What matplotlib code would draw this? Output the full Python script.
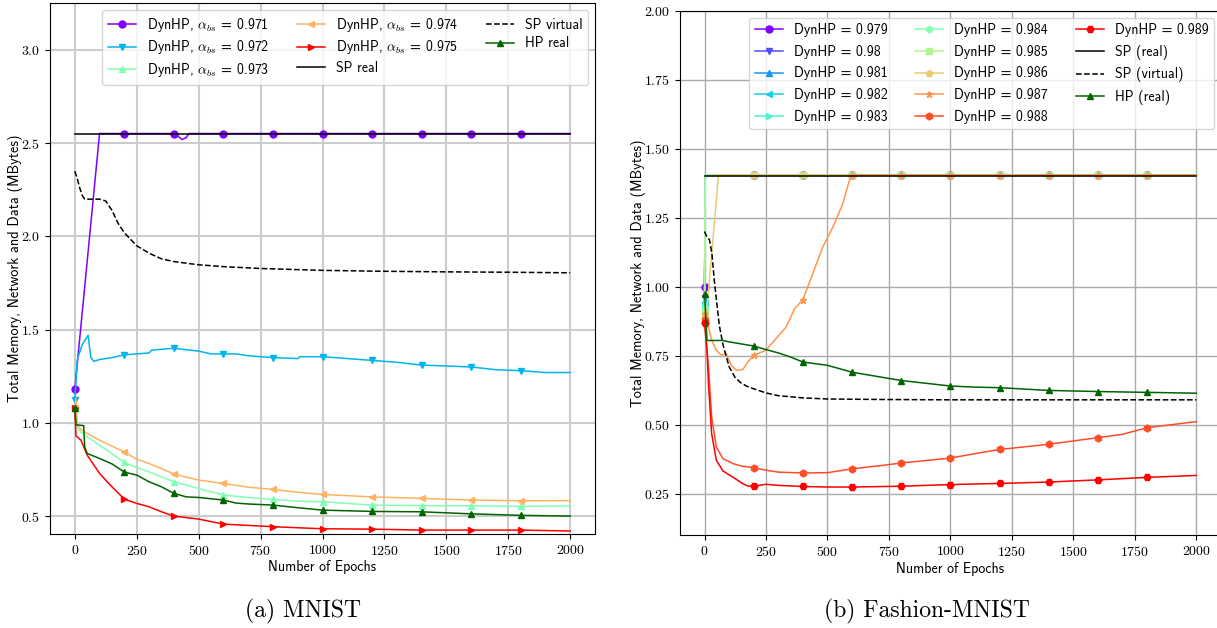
import numpy as np
import matplotlib
matplotlib.use('Agg')
import matplotlib.pyplot as plt

plt.rcParams["font.family"] = "cmr10"
plt.rcParams["mathtext.fontset"] = "cm"
plt.rcParams["axes.formatter.use_mathtext"] = True

# ---------------- MNIST (left) ----------------
ep_971 = [0, 100, 200, 400, 415, 433, 450, 460, 600, 800, 1000, 1200, 1400, 1600, 1800, 2000]
v_971 = [1.18, 2.552, 2.552, 2.552, 2.54, 2.52, 2.53, 2.552, 2.552, 2.552, 2.552, 2.552, 2.552, 2.552, 2.552, 2.552]

ep_972 = [0, 10, 30, 54, 60, 65, 77, 100, 150, 200, 250, 300, 310, 350, 400, 500, 550, 600, 650, 700,
          800, 900, 910, 1000, 1100, 1200, 1300, 1400, 1500, 1600, 1700, 1800, 1900, 2000]
v_972 = [1.12, 1.34, 1.42, 1.47, 1.40, 1.35, 1.33, 1.34, 1.35, 1.365, 1.37, 1.375, 1.39, 1.395, 1.40,
         1.385, 1.37, 1.37, 1.37, 1.36, 1.35, 1.345, 1.355, 1.355, 1.345, 1.335, 1.325, 1.31, 1.305,
         1.30, 1.285, 1.28, 1.27, 1.27]

ep_973 = [0, 5, 10, 25, 50, 100, 150, 200, 250, 300, 350, 400, 500, 600, 700, 800, 900, 1000, 1200, 1400, 1600, 1800, 2000]
v_973 = [1.08, 1.07, 0.975, 0.95, 0.925, 0.88, 0.835, 0.788, 0.76, 0.737, 0.71, 0.684, 0.648, 0.613,
         0.60, 0.589, 0.58, 0.577, 0.559, 0.556, 0.555, 0.552, 0.554]

ep_974 = [0, 5, 10, 25, 50, 100, 150, 200, 250, 300, 350, 400, 500, 600, 700, 800, 900, 1000, 1200, 1400, 1600, 1800, 2000]
v_974 = [1.08, 1.13, 0.99, 0.965, 0.943, 0.907, 0.875, 0.844, 0.805, 0.782, 0.755, 0.725, 0.693, 0.675,
         0.655, 0.643, 0.628, 0.616, 0.603, 0.595, 0.586, 0.582, 0.583]

ep_975 = [0, 5, 25, 50, 100, 150, 200, 250, 300, 350, 400, 500, 600, 800, 1000, 1200, 1400, 1600, 1800, 2000]
v_975 = [1.08, 0.93, 0.907, 0.827, 0.729, 0.657, 0.591, 0.568, 0.55, 0.523, 0.50, 0.484, 0.457, 0.443,
         0.432, 0.43, 0.425, 0.425, 0.425, 0.42]

ep_sp_real_a = [0, 2000]
v_sp_real_a = [2.548, 2.548]

ep_sp_virt_a = [0, 10, 20, 30, 40, 50, 75, 100, 125, 150, 175, 200, 250, 300, 350, 400, 500, 600, 750,
                1000, 1250, 1500, 1750, 2000]
v_sp_virt_a = [2.35, 2.31, 2.26, 2.22, 2.20, 2.20, 2.20, 2.20, 2.19, 2.14, 2.07, 2.02, 1.95, 1.91, 1.88,
               1.865, 1.848, 1.838, 1.828, 1.818, 1.813, 1.81, 1.808, 1.805]

ep_hp_a = [0, 5, 36, 40, 50, 100, 150, 200, 250, 300, 350, 400, 450, 500, 600, 650, 700, 800, 900, 1000,
           1200, 1400, 1600, 1800, 2000]
v_hp_a = [1.08, 0.99, 0.985, 0.87, 0.836, 0.809, 0.78, 0.736, 0.72, 0.684, 0.657, 0.622, 0.603, 0.60,
          0.586, 0.57, 0.565, 0.559, 0.545, 0.532, 0.525, 0.523, 0.512, 0.504, 0.50]

alphas_a = ["0.971", "0.972", "0.973", "0.974", "0.975"]

# ---------------- Fashion-MNIST (right) ----------------
ep_flat = [0, 3, 200, 400, 600, 800, 1000, 1200, 1400, 1600, 1800, 2000]
v_979 = [1.00, 1.405, 1.405, 1.405, 1.405, 1.405, 1.405, 1.405, 1.405, 1.405, 1.405, 1.405]
v_980 = [0.96, 1.405, 1.405, 1.405, 1.405, 1.405, 1.405, 1.405, 1.405, 1.405, 1.405, 1.405]
v_981 = [0.95, 1.403, 1.403, 1.403, 1.403, 1.403, 1.403, 1.403, 1.403, 1.403, 1.403, 1.403]
v_982 = [0.94, 1.405, 1.405, 1.405, 1.405, 1.405, 1.405, 1.405, 1.405, 1.405, 1.405, 1.405]
v_983 = [0.93, 1.405, 1.405, 1.405, 1.405, 1.405, 1.405, 1.405, 1.405, 1.405, 1.405, 1.405]
v_984 = [0.92, 1.405, 1.405, 1.405, 1.405, 1.405, 1.405, 1.405, 1.405, 1.405, 1.405, 1.405]
v_985 = [0.90, 1.406, 1.406, 1.406, 1.406, 1.406, 1.406, 1.406, 1.406, 1.406, 1.406, 1.406]

ep_986 = [0, 7, 57, 200, 400, 600, 800, 1000, 1200, 1400, 1600, 1800, 2000]
v_986 = [0.89, 0.89, 1.405, 1.405, 1.405, 1.405, 1.405, 1.405, 1.405, 1.405, 1.405, 1.405, 1.405]

ep_987 = [0, 16, 29, 48, 68, 88, 109, 129, 156, 176, 200, 250, 291, 332, 366, 400, 440, 481, 522, 562,
          589, 600, 800, 1000, 1200, 1400, 1600, 1800, 2000]
v_987 = [0.90, 0.854, 0.806, 0.77, 0.752, 0.757, 0.715, 0.697, 0.70, 0.727, 0.751, 0.77, 0.812, 0.854,
         0.92, 0.953, 1.047, 1.144, 1.216, 1.30, 1.385, 1.405, 1.405, 1.405, 1.405, 1.405, 1.405, 1.405, 1.405]

ep_988 = [0, 16, 29, 48, 75, 115, 150, 200, 250, 300, 400, 500, 600, 700, 800, 900, 1000, 1100, 1200,
          1400, 1600, 1700, 1800, 1900, 2000]
v_988 = [0.88, 0.709, 0.528, 0.419, 0.377, 0.359, 0.35, 0.344, 0.335, 0.328, 0.325, 0.326, 0.34, 0.35,
         0.361, 0.37, 0.379, 0.395, 0.41, 0.429, 0.453, 0.465, 0.489, 0.50, 0.511]

ep_989 = [0, 10, 16, 29, 48, 75, 115, 156, 175, 200, 250, 300, 400, 500, 600, 800, 1000, 1200, 1400,
          1600, 1800, 2000]
v_989 = [0.87, 0.769, 0.649, 0.467, 0.371, 0.332, 0.31, 0.286, 0.278, 0.277, 0.284, 0.28, 0.276, 0.274,
         0.274, 0.277, 0.283, 0.287, 0.292, 0.30, 0.309, 0.316]

ep_sp_real_b = [0, 2000]
v_sp_real_b = [1.40, 1.40]

ep_sp_virt_b = [0, 10, 20, 30, 40, 50, 60, 75, 100, 125, 150, 175, 200, 250, 300, 400, 500, 750, 1000, 2000]
v_sp_virt_b = [1.20, 1.18, 1.17, 1.12, 1.02, 0.94, 0.86, 0.79, 0.71, 0.67, 0.65, 0.638, 0.63, 0.615,
               0.605, 0.597, 0.593, 0.591, 0.59, 0.59]

ep_hp_b = [0, 10, 75, 100, 200, 250, 300, 350, 400, 500, 600, 700, 800, 900, 1000, 1100, 1200, 1400,
           1600, 1800, 2000]
v_hp_b = [0.975, 0.805, 0.805, 0.80, 0.785, 0.772, 0.76, 0.745, 0.727, 0.715, 0.69, 0.675, 0.66, 0.65,
          0.64, 0.636, 0.634, 0.624, 0.62, 0.617, 0.614]

alphas_b = ["0.979", "0.98", "0.981", "0.982", "0.983", "0.984", "0.985", "0.986", "0.987", "0.988", "0.989"]


def marks(ep):
    # markers every 200 epochs (as in the original figure)
    return [i for i, e in enumerate(ep) if e % 200 == 0 and e < 2000]


def styleAxis(ax, gridColor, gridWidth):
    ax.grid(True, color=gridColor, linewidth=gridWidth)
    ax.set_axisbelow(True)
    ax.set_xlim(-100, 2100)
    ax.set_xticks([0, 250, 500, 750, 1000, 1250, 1500, 1750, 2000])
    ax.tick_params(axis='both', labelsize=10)
    ax.set_xlabel("Number of Epochs", family="cmss10", fontsize=10, labelpad=2)
    ax.set_ylabel("Total Memory, Network and Data (MBytes)", family="cmss10", fontsize=10.3, labelpad=-1)


fig = plt.figure(figsize=(12.17, 6.28), dpi=100)
ax0 = fig.add_axes([0.0411, 0.1497, 0.4478, 0.8455])
ax1 = fig.add_axes([0.5587, 0.148, 0.4445, 0.835])

# Left panel
cmap = plt.get_cmap("rainbow")
mk_a = ['o', 'v', '^', '<', '>']
series_a = [(ep_971, v_971), (ep_972, v_972), (ep_973, v_973), (ep_974, v_974), (ep_975, v_975)]
cols_a = cmap(np.linspace(0, 1, len(series_a)))
for (ep, v), a, m, c in zip(series_a, alphas_a, mk_a, cols_a):
    ax0.plot(ep, v, color=c, marker=m, markevery=marks(ep), markersize=5, linewidth=1.1,
             label="DynHP, $\\alpha_{bs}$ = " + a)
ax0.plot(ep_sp_real_a, v_sp_real_a, color="k", linewidth=1.1, label="SP real")
ax0.plot(ep_sp_virt_a, v_sp_virt_a, "k--", linewidth=1.1, label="SP virtual")
ax0.plot(ep_hp_a, v_hp_a, color="darkgreen", marker="^", markevery=marks(ep_hp_a), markersize=5,
         linewidth=1.1, label="HP real")
styleAxis(ax0, "#cccccc", 1.5)
ax0.set_ylim(0.404, 3.252)
ax0.set_yticks([0.5, 1.0, 1.5, 2.0, 2.5, 3.0])
ax0.legend(loc="upper right", ncol=3, prop={"family": "cmss10", "size": 10},
           labelspacing=0.35, framealpha=0.8)

# Right panel
mk_b = ['o', 'v', '^', '<', '>', '8', 's', 'p', '*', 'h', 'H']
series_b = [(ep_flat, v_979), (ep_flat, v_980), (ep_flat, v_981), (ep_flat, v_982), (ep_flat, v_983),
            (ep_flat, v_984), (ep_flat, v_985), (ep_986, v_986), (ep_987, v_987), (ep_988, v_988),
            (ep_989, v_989)]
cols_b = cmap(np.linspace(0, 1, len(series_b)))
for (ep, v), a, m, c in zip(series_b, alphas_b, mk_b, cols_b):
    ax1.plot(ep, v, color=c, marker=m, markevery=marks(ep), markersize=5, linewidth=1.1,
             label="DynHP = " + a)
ax1.plot(ep_sp_real_b, v_sp_real_b, color="k", linewidth=1.1, label="SP (real)")
ax1.plot(ep_sp_virt_b, v_sp_virt_b, "k--", linewidth=1.1, label="SP (virtual)")
ax1.plot(ep_hp_b, v_hp_b, color="darkgreen", marker="^", markevery=marks(ep_hp_b), markersize=5,
         linewidth=1.1, label="HP (real)")
styleAxis(ax1, "#aaaaaa", 1.0)
ax1.set_ylim(0.1, 2.0)
ax1.set_yticks([0.25, 0.5, 0.75, 1.0, 1.25, 1.5, 1.75, 2.0])
ax1.legend(loc="upper right", ncol=3, prop={"family": "cmss10", "size": 10},
           labelspacing=0.55, framealpha=0.8)

# Captions
fig.text(0.249, 0.026, "(a) MNIST", ha="center", va="center", fontsize=17)
fig.text(0.762, 0.026, "(b) Fashion-MNIST", ha="center", va="center", fontsize=17)

plt.savefig("out.png", dpi=100)
plt.close()
